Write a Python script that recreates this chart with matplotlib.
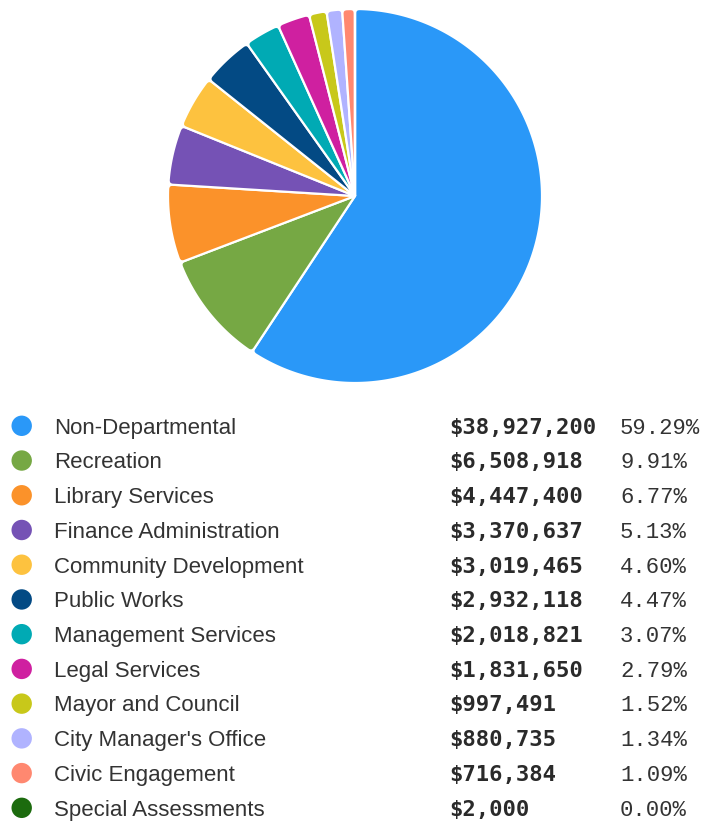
import numpy as np
import matplotlib
matplotlib.use("Agg")
import matplotlib.pyplot as plt
from matplotlib.path import Path
from matplotlib.patches import PathPatch, Circle

# Budget by department
departments = [
    "Non-Departmental", "Recreation", "Library Services", "Finance Administration",
    "Community Development", "Public Works", "Management Services", "Legal Services",
    "Mayor and Council", "City Manager's Office", "Civic Engagement", "Special Assessments",
]
amounts = [
    38927200, 6508918, 4447400, 3370637, 3019465, 2932118,
    2018821, 1831650, 997491, 880735, 716384, 2000,
]
colors = [
    "#2A98F8", "#76A844", "#FB922A", "#7552B5", "#FDC23F", "#034A84",
    "#00AAB4", "#CF20A0", "#C8C81A", "#B0B3FF", "#FF8870", "#1C6B0E",
]

W, H = 701, 823
fig = plt.figure(figsize=(W / 100, H / 100), dpi=100)

# ---- pie (radius in pixels, centre at 355,196) ----
R = 187.0
cx, cy = 355.0, 196.0
pax = fig.add_axes([(cx - R) / W, (H - cy - R) / H, 2 * R / W, 2 * R / H])
pax.set_xlim(-R, R)
pax.set_ylim(-R, R)
pax.set_aspect("equal")
pax.axis("off")

vals = np.array(amounts, dtype=float)
fracs = vals / vals.sum()
cum = np.concatenate([[0], np.cumsum(fracs)])
rho = 4.5  # corner rounding


def wedge_path(t1, t2):
    """Wedge from angle t1 to t2 (radians, ccw) with rounded outer corners."""
    span = t2 - t1
    phi = min(rho / R, span / 2.0)
    rr = R - min(rho, R * phi)
    verts = [(0, 0), (rr * np.cos(t1), rr * np.sin(t1))]
    codes = [Path.MOVETO, Path.LINETO]
    verts += [(R * np.cos(t1), R * np.sin(t1)),
              (R * np.cos(t1 + phi), R * np.sin(t1 + phi))]
    codes += [Path.CURVE3, Path.CURVE3]
    n = max(int(np.degrees(span) * 2), 2)
    for t in np.linspace(t1 + phi, t2 - phi, n)[1:]:
        verts.append((R * np.cos(t), R * np.sin(t)))
        codes.append(Path.LINETO)
    verts += [(R * np.cos(t2), R * np.sin(t2)),
              (rr * np.cos(t2), rr * np.sin(t2))]
    codes += [Path.CURVE3, Path.CURVE3]
    verts.append((0, 0))
    codes.append(Path.CLOSEPOLY)
    return Path(verts, codes)


for i, c in enumerate(colors):
    if fracs[i] <= 0:
        continue
    t2 = np.radians(90 - cum[i] * 360)
    t1 = np.radians(90 - cum[i + 1] * 360)
    pax.add_patch(PathPatch(wedge_path(t1, t2), facecolor=c, edgecolor="white",
                            linewidth=1.6, joinstyle="round"))

# ---- legend table ----
lax = fig.add_axes([0, 0, 1, 1])
lax.set_xlim(0, W)
lax.set_ylim(H, 0)
lax.axis("off")

row0, step = 425.8, 34.73
total = vals.sum()
for i, (name, amt, c) in enumerate(zip(departments, amounts, colors)):
    y = row0 + i * step
    lax.add_patch(Circle((21.7, y), 10.2, facecolor=c, edgecolor="none"))
    lax.text(54, y + 7.8, name, fontsize=16, family="Liberation Sans",
             color="#333333", va="baseline", ha="left")
    lax.text(449, y + 7.8, f"${amt:,}", fontsize=16, family="DejaVu Sans Mono",
             fontweight="bold", color="#2a2a2a", va="baseline", ha="left")
    lax.text(620, y + 7.8, f"{amt / total * 100:.2f}%", fontsize=16,
             family="Liberation Mono", color="#333333", va="baseline", ha="left")

fig.savefig("out.png", dpi=100)
